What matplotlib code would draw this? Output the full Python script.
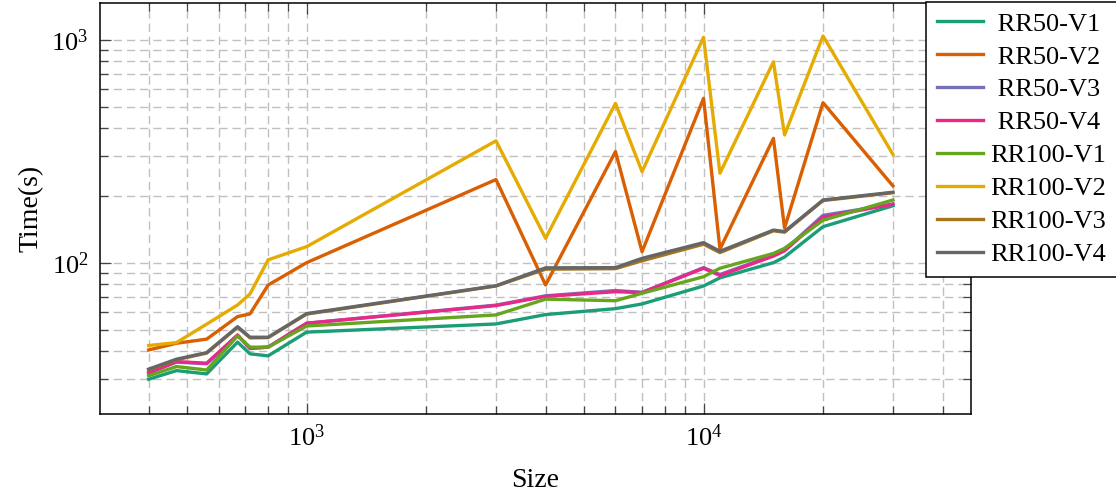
import matplotlib
matplotlib.use("Agg")
import matplotlib.pyplot as plt
from matplotlib.ticker import LogLocator, NullFormatter

plt.rcParams["font.family"] = ["Liberation Serif", "DejaVu Serif"]
plt.rcParams["mathtext.fontset"] = "custom"
plt.rcParams["mathtext.rm"] = "Liberation Serif"
plt.rcParams["mathtext.it"] = "Liberation Serif:italic"
plt.rcParams["font.size"] = 19
plt.rcParams["lines.scale_dashes"] = False

sizes = [400, 470, 560, 670, 720, 800, 1000, 3000, 4000, 6000, 7000,
         10000, 11000, 15000, 16000, 20000, 30000]

rr50_v1 = [30.0, 32.8, 31.7, 44.0, 39.0, 38.2, 48.8, 53.1, 58.5, 62.2, 65.3,
           78.6, 85.5, 100, 106, 145, 180]
rr50_v2 = [40.6, 43.5, 45.4, 57.3, 58.9, 79.4, 100, 236, 79.4, 315, 112,
           546, 115, 361, 143, 522, 221]
rr50_v3 = [32.0, 35.8, 35.2, 47.2, 41.2, 41.8, 53.5, 64.5, 71.0, 75.0, 73.6,
           95.0, 88.5, 108, 114, 163, 183]
rr50_v4 = [32.1, 36.0, 35.4, 47.4, 41.3, 41.8, 53.5, 64.2, 70.6, 74.1, 73.4,
           94.4, 87.6, 107, 113, 160, 183]
rr100_v1 = [31.1, 34.2, 33.0, 46.9, 41.8, 41.8, 52.0, 58.3, 68.6, 67.5, 72.9,
            86.5, 94.4, 110, 116, 155, 191]
rr100_v2 = [42.5, 43.8, 53.0, 64.6, 72.4, 103, 118, 352, 128.6, 518, 256,
            1025, 252, 796, 374, 1040, 306]
rr100_v3 = [33.1, 36.7, 39.3, 51.3, 46.0, 46.1, 58.8, 78.6, 93.5, 94.0, 102,
            121, 111, 139, 137, 190, 206]
rr100_v4 = [33.3, 36.9, 39.5, 51.6, 46.3, 46.3, 59.1, 78.8, 94.8, 95.0, 104.6,
            123, 112.5, 140, 138, 191, 207]

labels = [" RR50-V1", " RR50-V2", " RR50-V3", " RR50-V4",
          "RR100-V1", "RR100-V2", "RR100-V3", "RR100-V4"]
series = [rr50_v1, rr50_v2, rr50_v3, rr50_v4,
          rr100_v1, rr100_v2, rr100_v3, rr100_v4]
colors = ["#1b9e77", "#d95f02", "#7570b3", "#e7298a",
          "#66a61e", "#e6ab02", "#a6761d", "#666666"]

fig = plt.figure(figsize=(11.16, 4.92), dpi=100)
ax = fig.add_axes([0.0893, 0.159, 0.7808, 0.8355])

for ys, lab, col in zip(series, labels, colors):
    ax.plot(sizes, ys, color=col, lw=2.4, label=lab, zorder=3)

ax.set_xscale("log")
ax.set_yscale("log")
ax.set_xlim(301, 47200)
ax.set_ylim(21.0, 1466)

ax.xaxis.set_minor_locator(LogLocator(base=10, subs=range(2, 10)))
ax.yaxis.set_minor_locator(LogLocator(base=10, subs=range(2, 10)))
ax.xaxis.set_minor_formatter(NullFormatter())
ax.yaxis.set_minor_formatter(NullFormatter())

ax.grid(True, which="both", color="#c0c0c0", lw=1.0,
        linestyle=(0, (6, 3.5)), zorder=0)
ax.tick_params(which="both", direction="in", top=True, right=True,
               color="#444444", width=0.9)
ax.tick_params(which="major", length=8, pad=8)
ax.tick_params(which="minor", length=5.5)
for sp in ax.spines.values():
    sp.set_linewidth(1.1)

ax.set_xlabel("Size", fontsize=20, labelpad=12)
ax.set_ylabel("Time(s)", fontsize=20, labelpad=6)

leg = fig.legend(loc="upper left", bbox_to_anchor=(926 / 1116, 1 - 1.5 / 492),
                 borderaxespad=0, frameon=True, fancybox=False,
                 handlelength=1.75, handletextpad=0.3, labelspacing=0.36,
                 borderpad=0.4, fontsize=19)
leg.get_frame().set_edgecolor("black")
leg.get_frame().set_linewidth(1.1)
leg.get_frame().set_alpha(1)
for line in leg.get_lines():
    line.set_linewidth(2.4)

fig.savefig("out.png", dpi=100)
